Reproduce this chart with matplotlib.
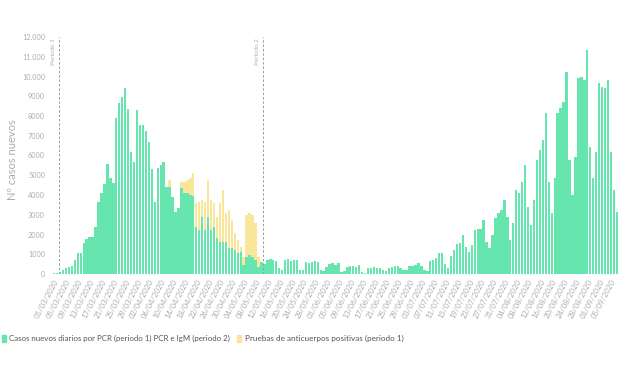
import matplotlib
matplotlib.use("Agg")
import matplotlib.pyplot as plt
import numpy as np
import pandas as pd

# ---- data ----
dates = pd.date_range("2020-03-01", periods=191, freq="D")

pcr_cases = [
    30, 50, 100, 200, 300, 370, 400, 700, 1050, 1080,
    1550, 1750, 1890, 1860, 2400, 3660, 4080, 4560, 5570, 4860,
    4600, 7880, 8640, 8950, 9400, 8340, 6160, 5690, 8310, 7540,
    7540, 7240, 6700, 5300, 3660, 5350, 5520, 5690, 4420,
    4420, 3900, 3150, 3320, 4340, 4080, 4080, 4000, 3950, 2400,
    2230, 2900, 2230, 2900, 2230, 2400, 1800, 1640, 1640, 1640,
    1300, 1300, 1200, 1050, 1130, 460, 880, 960, 880, 700,
    370, 620,
    500, 700, 740, 700, 680, 290, 200,
    700, 740, 680, 700, 720, 200, 200,
    620, 540, 620, 650, 620, 200, 150,
    370, 490, 570, 470, 570, 120, 150,
    370, 410, 430, 370, 440, 80, 60,
    290, 320, 340, 290, 290, 200, 150,
    290, 370, 400, 400, 300, 200, 200,
    420, 410, 460, 540, 400, 200, 170,
    680, 700, 800, 1080, 1050, 500, 300,
    900, 1200, 1500, 1550, 1970, 1380, 1130,
    1470, 2230, 2260, 2260, 2730, 1640, 1300,
    1970, 2820, 3070, 3240, 3750, 2900, 1720,
    2600, 4250, 4080, 4680, 5520, 3410, 2480,
    3750, 5770, 6280, 6790, 8130, 4680, 3100,
    4850, 8130, 8390, 8730, 10240, 5770, 4000,
    5940, 9900, 9990, 9820, 11340, 6450, 4850,
    6200, 9650, 9490, 9400, 9820, 6200, 4250,
    3160,
]

antibody_start = 39
antibody_cases = [
    330, 0, 0, 0, 340, 600, 680, 840, 1150, 1180,
    1430, 850, 1430, 1860, 1520, 1180, 1100, 1940, 2610, 1430,
    1940, 1430, 860, 670, 250, 420, 2110, 2120, 2110, 1870,
    510, 0,
]

tick_labels = [
    "01/03/2020", "05/03/2020", "09/03/2020", "13/03/2020", "17/03/2020",
    "21/03/2020", "25/03/2020", "29/03/2020", "02/04/2020", "06/04/2020",
    "10/04/2020", "14/04/2020", "18/04/2020", "22/04/2020", "26/04/2020",
    "30/04/2020", "04/05/2020", "08/05/2020", "12/05/2020", "16/05/2020",
    "20/05/2020", "24/05/2020", "28/05/2020", "01/06/2020", "05/06/2020",
    "09/06/2020", "13/06/2020", "17/06/2020", "21/06/2020", "25/06/2020",
    "29/06/2020", "03/07/2020", "07/07/2020", "11/07/2020", "15/07/2020",
    "19/07/2020", "23/07/2020", "27/07/2020", "31/07/2020", "04/08/2020",
    "08/08/2020", "12/08/2020", "16/08/2020", "20/08/2020", "24/08/2020",
    "28/08/2020", "01/09/2020", "05/09/2020",
]

y_ticks = [0, 1000, 2000, 3000, 4000, 5000, 6000, 7000, 8000, 9000, 10000, 11000, 12000]
y_tick_labels = ["0", "1000", "2000", "3000", "4000", "5000", "6000", "7000",
                 "8000", "9000", "10.000", "11.000", "12.000"]

period_lines = {"Periodo 1": 1.8, "Periodo 2": 70.6}

# ---- styling ----
GREEN = "#66E6AE"
YELLOW = "#FAE69A"
GREY = "#ADADAD"

plt.rcParams["font.family"] = ["Lato", "DejaVu Sans"]

fig = plt.figure(figsize=(6.2, 3.68), dpi=100)
ax = fig.add_axes([52 / 620, 1 - 274 / 368, (619 - 52) / 620, (274 - 37) / 368])

n = len(pcr_cases)
x = np.arange(n)
ax.bar(x, pcr_cases, width=0.8, color=GREEN, linewidth=0, zorder=2)

ab_full = np.zeros(n)
ab_full[antibody_start:antibody_start + len(antibody_cases)] = antibody_cases
ax.bar(x, ab_full, width=0.8, bottom=pcr_cases, color=YELLOW, linewidth=0, zorder=2)

ax.set_xlim(-0.7, n - 0.3)
ax.set_ylim(0, 12000)

ax.set_yticks(y_ticks)
ax.set_yticklabels(y_tick_labels, fontsize=5.2, color=GREY)
ax.tick_params(axis="y", length=0, pad=5)

tick_pos = [dates.get_loc(pd.to_datetime(t, format="%d/%m/%Y")) for t in tick_labels]
ax.set_xticks(tick_pos)
ax.set_xticklabels(tick_labels, rotation=62, ha="right", rotation_mode="anchor",
                   fontsize=5.6, color=GREY)
ax.tick_params(axis="x", length=0, pad=3)

for s in ax.spines.values():
    s.set_visible(False)

for name, xpos in period_lines.items():
    ax.axvline(xpos, color="#9a9a9a", linestyle=(0, (2.5, 2)), linewidth=0.7, zorder=3)
    ax.text(xpos - 1.0, 11950, name, rotation=90, ha="right", va="top",
            fontsize=4.5, color="#b0b0b0")

fig.text(13 / 620, 1 - 160 / 368, "Nº casos nuevos", rotation=90, ha="center",
         va="center", fontsize=8, color=GREY)

# legend
fig.patches.append(plt.Rectangle((2 / 620, 1 - 342 / 368), 4 / 620, 7 / 368,
                                 transform=fig.transFigure, color=GREEN))
fig.text(9 / 620, 1 - 338.5 / 368,
         "Casos nuevos diarios por PCR (periodo 1) PCR e IgM (periodo 2)",
         ha="left", va="center", fontsize=5.65, color="#555555")
fig.patches.append(plt.Rectangle((237 / 620, 1 - 342 / 368), 4 / 620, 7 / 368,
                                 transform=fig.transFigure, color=YELLOW))
fig.text(245 / 620, 1 - 338.5 / 368,
         "Pruebas de anticuerpos positivas (periodo 1)",
         ha="left", va="center", fontsize=5.9, color="#555555")

fig.savefig("out.png", dpi=100, facecolor="white")
